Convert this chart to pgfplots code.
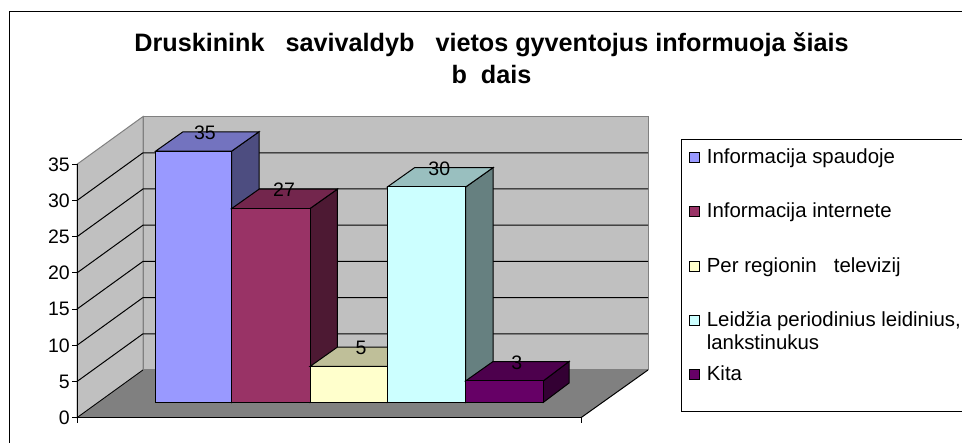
\documentclass[border=0pt]{standalone}
\usepackage{pgfplots}
\pgfplotsset{compat=1.18}
\usepackage{fontspec}
\setmainfont{Liberation Sans}
\definecolor{wall}{HTML}{C0C0C0}
\definecolor{floorc}{HTML}{808080}
\definecolor{aF}{HTML}{9999FF}\definecolor{aT}{HTML}{7373BF}\definecolor{aS}{HTML}{4D4D80}
\definecolor{bF}{HTML}{993366}\definecolor{bT}{HTML}{73264D}\definecolor{bS}{HTML}{4D1933}
\definecolor{cF}{HTML}{FFFFCC}\definecolor{cT}{HTML}{BFBF99}\definecolor{cS}{HTML}{808066}
\definecolor{dF}{HTML}{CCFFFF}\definecolor{dT}{HTML}{99BFBF}\definecolor{dS}{HTML}{668080}
\definecolor{eF}{HTML}{660066}\definecolor{eT}{HTML}{4D004D}\definecolor{eS}{HTML}{330033}
\newcommand{\fs}{\fontsize{19.5}{22}\selectfont}
\newcommand{\fl}{\fontsize{20.4}{23.3}\selectfont}
\newcommand{\ent}[2]{\raisebox{#1}[15pt][5pt]{#2}}
\begin{document}
\begin{tikzpicture}[x=1pt,y=1pt]
\path[fill=white] (0,0) rectangle (962,443);
\draw[overlay,line width=1.4pt] (9.7,-10) -- (9.7,431.3) -- (975,431.3);
\draw[overlay,line width=1pt] (975,303) -- (681,303) -- (681,31.3) -- (975,31.3);
\node[font=\fontsize{25.2}{32}\selectfont\bfseries,align=center] at (491.5,385)
  {Druskinink~~~savivaldyb~~~vietos gyventojus informuoja šiais\\b~~dais};
% walls, floor, grid
\begin{axis}[
  at={(77pt,25.3pt)},anchor=south west,scale only axis,width=504pt,height=253.4pt,
  xmin=77,xmax=581,ymin=0,ymax=35,clip=false,
  axis x line=bottom,axis y line=left,axis line style={-,line width=1pt,black},
  xtick={77,581},xticklabels={},ytick={0,5,...,35},
  tick align=outside,major tick length=5pt,tick style={black,line width=1pt},
  /pgf/number format/assume math mode=true,
  yticklabel style={font=\fs,inner sep=2pt},
  axis on top=true]
\addplot[fill=wall,draw=floorc,line width=1pt] coordinates {(77,0)(143,6.59)(143,41.59)(77,35)} --cycle;
\addplot[fill=wall,draw=floorc,line width=1pt] coordinates {(143,6.59)(648,6.59)(648,41.59)(143,41.59)} --cycle;
\addplot[fill=floorc,draw=none] coordinates {(77,0)(581,0)(648,6.59)(143,6.59)} --cycle;
\addplot[black,line width=0.8pt] coordinates {(77,0)(143,6.59)};
\addplot[black,line width=1pt] coordinates {(581,0)(648,6.59)};
\addplot[black,line width=1pt] coordinates {(77,5)(143,11.59)(648,11.59)};
\addplot[black,line width=1pt] coordinates {(77,10)(143,16.59)(648,16.59)};
\addplot[black,line width=1pt] coordinates {(77,15)(143,21.59)(648,21.59)};
\addplot[black,line width=1pt] coordinates {(77,20)(143,26.59)(648,26.59)};
\addplot[black,line width=1pt] coordinates {(77,25)(143,31.59)(648,31.59)};
\addplot[black,line width=1pt] coordinates {(77,30)(143,36.59)(648,36.59)};
\end{axis}
% bars
\begin{axis}[
  at={(77pt,25.3pt)},anchor=south west,scale only axis,width=504pt,height=253.4pt,
  xmin=77,xmax=581,ymin=-2.131,ymax=33.161,clip=false,hide axis,
  legend style={at={(1.214,1.064)},anchor=north west,draw=none,fill=none,
    row sep=38pt,inner sep=0pt,outer sep=0pt,font=\fl,
    nodes={inner sep=0pt},column sep=7pt},
  legend cell align=left,
  legend image code/.code={\draw[#1,line width=1pt] (0pt,-6pt) rectangle (10pt,4pt);},
  every axis plot/.append style={draw=black,line width=1pt}]
\addplot[forget plot,fill=aS] coordinates {(231.7,0)(259,2.69)(259,37.69)(231.7,35)} --cycle;
\addplot[forget plot,fill=aT] coordinates {(155.7,35)(183,37.69)(259,37.69)(231.7,35)} --cycle;
\addplot[fill=aF] coordinates {(155.7,0)(231.7,0)(231.7,35)(155.7,35)} --cycle;
\addlegendentry{\ent{0pt}{Informacija spaudoje}}
\addplot[forget plot,fill=bS] coordinates {(310,0)(337.3,2.69)(337.3,29.69)(310,27)} --cycle;
\addplot[forget plot,fill=bT] coordinates {(231.7,27)(259,29.69)(337.3,29.69)(310,27)} --cycle;
\addplot[fill=bF] coordinates {(231.7,0)(310,0)(310,27)(231.7,27)} --cycle;
\addlegendentry{\ent{0pt}{Informacija internete}}
\addplot[forget plot,fill=cS] coordinates {(387.3,0)(414.6,2.69)(414.6,7.69)(387.3,5)} --cycle;
\addplot[forget plot,fill=cT] coordinates {(310,5)(337.3,7.69)(414.6,7.69)(387.3,5)} --cycle;
\addplot[fill=cF] coordinates {(310,0)(387.3,0)(387.3,5)(310,5)} --cycle;
\addlegendentry{\ent{0pt}{Per regionin~~~televizij}}
\addplot[forget plot,fill=dS] coordinates {(465.7,0)(493,2.69)(493,32.69)(465.7,30)} --cycle;
\addplot[forget plot,fill=dT] coordinates {(387.3,30)(414.6,32.69)(493,32.69)(465.7,30)} --cycle;
\addplot[fill=dF,legend image post style={yshift=0.5pt}] coordinates {(387.3,0)(465.7,0)(465.7,30)(387.3,30)} --cycle;
\addlegendentry{\ent{0.5pt}{\parbox[t]{254pt}{\baselineskip=23.3pt \hbox{Leidžia periodinius leidinius,}\hbox{lankstinukus}}}}
\addplot[forget plot,fill=eS] coordinates {(543.3,0)(569,2.69)(569,5.69)(543.3,3)} --cycle;
\addplot[forget plot,fill=eT] coordinates {(465.7,3)(493,5.69)(569,5.69)(543.3,3)} --cycle;
\addplot[fill=eF,legend image post style={yshift=1pt}] coordinates {(465.7,0)(543.3,0)(543.3,3)(465.7,3)} --cycle;
\addlegendentry{\ent{1pt}{Kita}}
\addplot[forget plot,only marks,mark=none,draw=none,point meta=y,
  nodes near coords={\pgfmathprintnumber[assume math mode=true]{\pgfplotspointmeta}},
  nodes near coords style={anchor=center,yshift=18.5pt,font=\fs,text=black,inner sep=0pt}]
  coordinates {(205,35)(284,27)(361,5)(439.3,30)(516.7,3)};
\end{axis}
\end{tikzpicture}
\end{document}
